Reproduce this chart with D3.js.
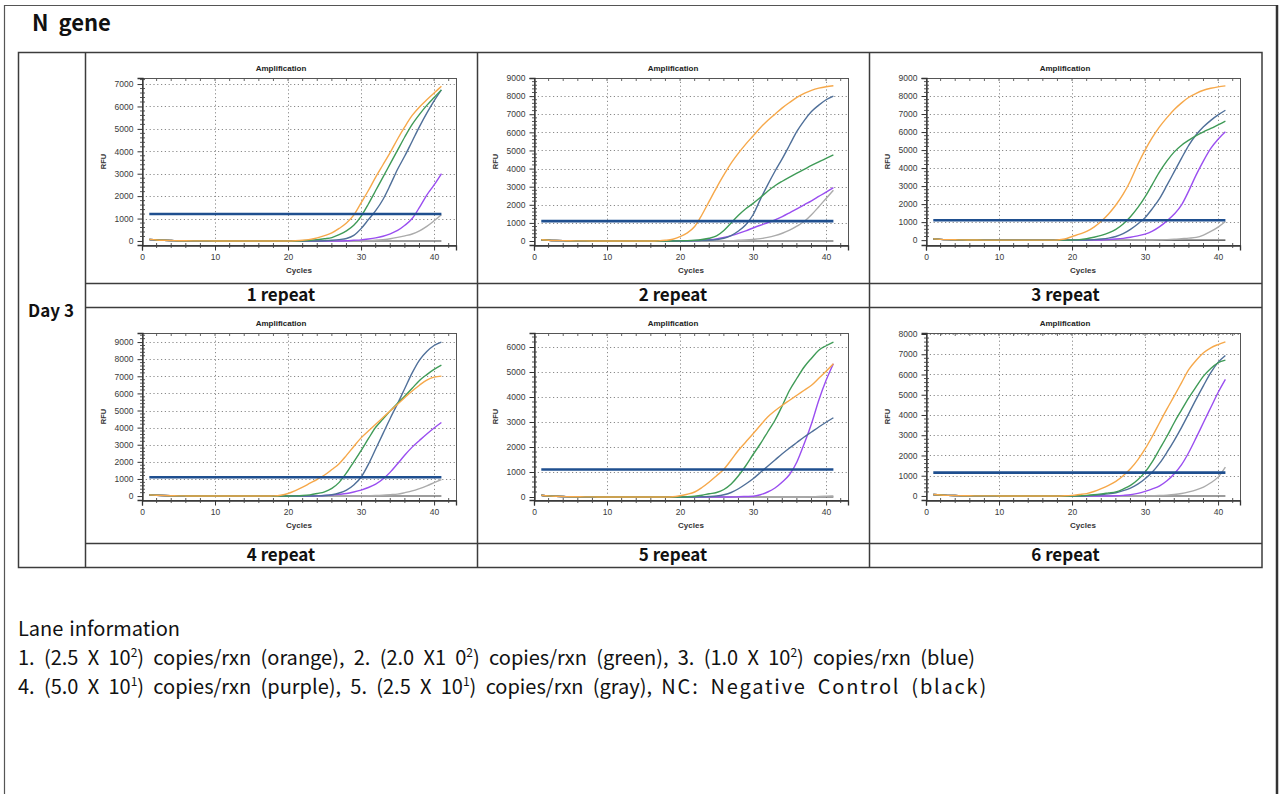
<!DOCTYPE html>
<html><head><meta charset="utf-8">
<script src="https://cdn.jsdelivr.net/npm/d3@7/dist/d3.min.js"></script>
<style>body{margin:0;background:#fff}svg{display:block}</style>
</head><body><svg id="c" width="1283" height="794"></svg>
<script>
// ---------------- DATA ----------------
const cycles = [1,2,3,4,5,6,7,8,9,10,11,12,13,14,15,16,17,18,19,20,21,22,23,24,25,26,27,28,29,30,31,32,33,34,35,36,37,38,39,40,41];
const repeatLabels = ["1 repeat","2 repeat","3 repeat","4 repeat","5 repeat","6 repeat"];
const yTickMax = [7000, 9000, 9000, 9000, 6000, 8000];
const yDomainTop = [7270, 9000, 9000, 9530, 6560, 8050];
const yDomainBottom = [-180, -220, -270, -230, -120, -200];
const xTicks = [0, 10, 20, 30, 40];
const thresholds = [1200, 1100, 1100, 1100, 1100, 1150];
const seriesNames = ["gray", "purple", "blue", "green", "orange"];

const ncValues = [50,35,22,14,9,5,3,2,1,0,0,0,0,0,0,0,0,0,0,0,0,0,0,0,0,0,0,0,0,0,0,0,0,0,0,0,0,0,0,0,0];

const p1Orange = [70,45,30,20,12,8,5,3,2,1,0,0,0,0,0,0,0,0,0,0,10,30,70,140,240,360,560,800,1150,1700,2250,2850,3400,3950,4550,5100,5600,5980,6300,6600,6900];
const p1Green  = [70,45,30,20,12,8,5,3,2,1,0,0,0,0,0,0,0,0,0,0,0,10,30,60,100,150,280,450,700,1100,1650,2250,2850,3450,4050,4650,5200,5650,6050,6400,6740];
const p1Blue   = [70,45,30,20,12,8,5,3,2,1,0,0,0,0,0,0,0,0,0,0,0,0,0,0,10,30,60,110,250,550,950,1350,1850,2500,3200,3800,4450,5100,5700,6250,6740];
const p1Purple = [70,45,30,20,12,8,5,3,2,1,0,0,0,0,0,0,0,0,0,0,0,0,0,0,0,0,0,10,30,50,90,140,210,320,470,700,1000,1500,2050,2500,3000];
const p1Gray   = [70,45,30,20,12,8,5,3,2,1,0,0,0,0,0,0,0,0,0,0,0,0,0,0,0,0,0,0,0,0,10,30,60,100,160,230,310,450,650,900,1170];

const p2Orange = [70,45,30,20,12,8,5,3,2,1,0,0,0,0,0,0,10,40,100,240,450,800,1450,2200,2950,3650,4300,4850,5350,5800,6250,6650,7000,7350,7650,7930,8150,8320,8440,8520,8570];
const p2Green  = [70,45,30,20,12,8,5,3,2,1,0,0,0,0,0,0,0,0,0,10,20,40,80,150,280,580,1000,1420,1780,2080,2400,2750,3050,3300,3530,3750,3960,4170,4370,4560,4750];
const p2Blue   = [70,45,30,20,12,8,5,3,2,1,0,0,0,0,0,0,0,0,0,0,0,10,20,40,80,150,300,550,900,1450,2300,3100,3850,4550,5300,6050,6650,7150,7500,7800,8000];
const p2Purple = [70,45,30,20,12,8,5,3,2,1,0,0,0,0,0,0,0,0,0,0,10,20,40,70,120,200,300,420,560,720,870,1010,1170,1350,1560,1780,2000,2220,2460,2700,2950];
const p2Gray   = [70,45,30,20,12,8,5,3,2,1,0,0,0,0,0,0,0,0,0,0,0,0,0,0,0,10,20,40,60,90,130,200,300,430,600,820,1080,1450,1890,2350,2800];

const p3Orange = [70,45,30,20,12,8,5,3,2,1,0,0,0,0,0,0,0,10,60,200,330,480,720,1050,1450,1950,2550,3300,4200,5000,5700,6300,6800,7250,7620,7930,8150,8320,8430,8510,8560];
const p3Green  = [70,45,30,20,12,8,5,3,2,1,0,0,0,0,0,0,0,0,0,10,30,80,160,260,400,600,900,1300,1800,2400,3100,3800,4400,4900,5270,5550,5800,6010,6200,6400,6600];
const p3Blue   = [70,45,30,20,12,8,5,3,2,1,0,0,0,0,0,0,0,0,0,0,0,10,30,60,110,200,360,600,900,1250,1750,2320,3050,3800,4550,5280,5850,6290,6650,6950,7210];
const p3Purple = [70,45,30,20,12,8,5,3,2,1,0,0,0,0,0,0,0,0,0,0,0,0,0,10,30,60,100,160,240,330,500,750,1070,1450,1960,2750,3620,4400,5090,5600,6010];
const p3Gray   = [70,45,30,20,12,8,5,3,2,1,0,0,0,0,0,0,0,0,0,0,0,0,0,0,0,0,0,0,0,0,10,20,30,50,80,110,150,280,480,720,1030];

const p4Orange = [70,45,30,20,12,8,5,3,2,1,0,0,0,0,0,0,0,10,50,150,320,520,750,980,1230,1550,1890,2380,2900,3400,3800,4200,4590,4980,5370,5760,6140,6480,6780,6950,7010];
const p4Green  = [70,45,30,20,12,8,5,3,2,1,0,0,0,0,0,0,0,0,0,0,10,30,70,150,250,450,800,1350,2000,2660,3350,4020,4500,4980,5420,5850,6300,6760,7100,7400,7650];
const p4Blue   = [70,45,30,20,12,8,5,3,2,1,0,0,0,0,0,0,0,0,0,0,0,0,0,10,30,80,180,350,650,1100,1850,2750,3650,4550,5400,6300,7200,7950,8450,8800,9000];
const p4Purple = [70,45,30,20,12,8,5,3,2,1,0,0,0,0,0,0,0,0,0,0,0,0,0,10,30,60,100,150,240,350,500,700,1000,1400,1890,2400,2860,3250,3630,3980,4300];
const p4Gray   = [70,45,30,20,12,8,5,3,2,1,0,0,0,0,0,0,0,0,0,0,0,0,0,0,0,0,0,0,0,10,20,30,50,80,115,200,300,440,600,780,960];

const p5Orange = [70,45,30,20,12,8,5,3,2,1,0,0,0,0,0,0,0,0,10,50,110,200,380,600,850,1110,1480,1870,2200,2530,2870,3200,3450,3670,3870,4070,4270,4470,4750,5030,5330];
const p5Green  = [70,45,30,20,12,8,5,3,2,1,0,0,0,0,0,0,0,0,0,0,10,30,70,130,180,300,520,850,1250,1700,2130,2600,3070,3650,4270,4750,5200,5550,5870,6050,6200];
const p5Blue   = [70,45,30,20,12,8,5,3,2,1,0,0,0,0,0,0,0,0,0,0,0,0,10,20,40,90,180,330,520,730,980,1230,1480,1730,1960,2180,2400,2600,2800,2990,3170];
const p5Purple = [70,45,30,20,12,8,5,3,2,1,0,0,0,0,0,0,0,0,0,0,0,0,0,0,0,0,0,10,20,30,90,200,360,600,900,1400,2130,2930,3870,4670,5330];
const p5Gray   = [70,45,30,20,12,8,5,3,2,1,0,0,0,0,0,0,0,0,0,0,0,0,0,0,0,0,0,0,0,0,0,0,0,0,0,0,0,10,20,30,40];

const p6Orange = [70,45,30,20,12,8,5,3,2,1,0,0,0,0,0,0,0,0,10,30,70,115,220,360,520,720,1000,1340,1780,2320,2950,3630,4300,4940,5600,6250,6700,7070,7320,7480,7610];
const p6Green  = [70,45,30,20,12,8,5,3,2,1,0,0,0,0,0,0,0,0,0,0,10,30,60,100,150,200,340,520,800,1180,1700,2320,2950,3630,4250,4860,5400,5920,6300,6580,6710];
const p6Blue   = [70,45,30,20,12,8,5,3,2,1,0,0,0,0,0,0,0,0,0,0,0,10,30,60,100,160,260,390,580,850,1180,1620,2160,2750,3390,4080,4780,5450,6090,6600,6940];
const p6Purple = [70,45,30,20,12,8,5,3,2,1,0,0,0,0,0,0,0,0,0,0,0,0,0,0,0,10,30,60,130,230,350,500,750,1100,1550,2160,2880,3630,4370,5110,5760];
const p6Gray   = [70,45,30,20,12,8,5,3,2,1,0,0,0,0,0,0,0,0,0,0,0,0,0,0,0,0,0,0,0,0,10,20,40,70,120,200,300,440,650,930,1420];

const panelSeries = [
  [p1Gray, p1Purple, p1Blue, p1Green, p1Orange],
  [p2Gray, p2Purple, p2Blue, p2Green, p2Orange],
  [p3Gray, p3Purple, p3Blue, p3Green, p3Orange],
  [p4Gray, p4Purple, p4Blue, p4Green, p4Orange],
  [p5Gray, p5Purple, p5Blue, p5Green, p5Orange],
  [p6Gray, p6Purple, p6Blue, p6Green, p6Orange]
];

const laneTitle = "Lane information";
const laneLine1 = [["1. (2.5 X 10",""],["2","sup"],[") copies/rxn (orange), 2. (2.0 X1 0",""],["2","sup"],[") copies/rxn (green), 3. (1.0 X 10",""],["2","sup"],[") copies/rxn (blue)",""]];
const laneLine2 = [["4. (5.0 X 10",""],["1","sup"],[") copies/rxn (purple), 5. (2.5 X 10",""],["1","sup"],[") copies/rxn (gray), ",""],["NC: Negative Control (black)","wide"]];

// ---------------- STYLE / LAYOUT ----------------
const colors = {gray:"#ababab", purple:"#9a4ef0", blue:"#4f6f99", green:"#3f9b57", orange:"#f6a84a", nc:"#3a3a3a"};
const threshColor = "#1f4f8f";
const korFont = "'Noto Sans CJK KR','Noto Sans',sans-serif";
const chartFont = "'Liberation Sans',Arial,sans-serif";
const lineCol = "#3c3c3c";

const svg = d3.select("#c");

svg.append("path").attr("d","M4.5,800V5.5H1277").attr("fill","none").attr("stroke","#555").attr("stroke-width",1.2);
svg.append("line").attr("x1",1277).attr("x2",1277).attr("y1",5).attr("y2",800).attr("stroke","#333").attr("stroke-width",2.5);

svg.append("text").attr("x",32).attr("y",31).style("white-space","pre")
  .attr("font-family",korFont).attr("font-weight","bold").attr("font-size",22).attr("fill","#111").text("N  gene");

const colX = [85, 477, 869, 1262];
const tbl = svg.append("g").attr("stroke",lineCol).attr("stroke-width",1.5).attr("fill","none");
tbl.append("rect").attr("x",18.5).attr("y",52.5).attr("width",1262-18.5).attr("height",567.5-52.5);
colX.slice(0,3).forEach(x=>tbl.append("line").attr("x1",x+0.5).attr("x2",x+0.5).attr("y1",52).attr("y2",567.5));
[283,307,543].forEach(y=>tbl.append("line").attr("x1",85).attr("x2",1262).attr("y1",y+0.5).attr("y2",y+0.5));

svg.append("text").attr("x",51).attr("y",317).attr("text-anchor","middle")
  .attr("font-family",korFont).attr("font-weight","bold").attr("font-size",17).attr("fill","#111").text("Day 3");

const line = d3.line().curve(d3.curveMonotoneX);
for (let p=0; p<6; p++) {
  const col = p%3, row = Math.floor(p/3);
  const x0 = colX[col], cellTop = row===0 ? 52 : 307;
  const fl = x0+57, fw = 314, ft = cellTop+26, fh = 167;
  const x = d3.scaleLinear().domain([0,43]).range([fl, fl+fw]);
  const y = d3.scaleLinear().domain([yDomainBottom[p], yDomainTop[p]]).range([ft+fh, ft]);
  const g = svg.append("g");
  const yt = d3.range(0, yTickMax[p]+1, 1000);

  g.append("g").selectAll("line").data(yt.filter(v=>v>0)).join("line")
    .attr("x1",fl).attr("x2",fl+fw).attr("y1",d=>Math.round(y(d))+0.5).attr("y2",d=>Math.round(y(d))+0.5)
    .attr("stroke","#8a8a8a").attr("stroke-width",1).attr("stroke-dasharray","1.2,2.6");
  g.append("g").selectAll("line").data(xTicks.filter(v=>v>0)).join("line")
    .attr("y1",ft).attr("y2",ft+fh).attr("x1",d=>Math.round(x(d))+0.5).attr("x2",d=>Math.round(x(d))+0.5)
    .attr("stroke","#8a8a8a").attr("stroke-width",1).attr("stroke-dasharray","1.2,2.6");

  g.append("rect").attr("x",fl+0.5).attr("y",ft+0.5).attr("width",fw).attr("height",fh)
    .attr("fill","none").attr("stroke","#555").attr("stroke-width",1);

  const yAx = d3.axisLeft(y).tickValues(yt).tickSize(5).tickPadding(4).tickFormat(d3.format("d"));
  const ya = g.append("g").attr("transform",`translate(${fl+0.5},0)`).call(yAx);
  const xAx = d3.axisBottom(x).tickValues(xTicks).tickSize(5).tickPadding(3);
  const xa = g.append("g").attr("transform",`translate(0,${ft+fh+0.5})`).call(xAx);
  [ya,xa].forEach(a=>{
    a.select(".domain").attr("stroke","#333").attr("stroke-width",1.3);
    a.selectAll(".tick line").attr("stroke","#333");
    a.selectAll("text").attr("font-family",chartFont).attr("font-size",8.5).attr("fill","#3a3a3a");
  });
  const yMinor = d3.range(0, yDomainTop[p], 200).filter(v=>v%1000!==0);
  g.append("g").selectAll("line").data(yMinor).join("line")
    .attr("x1",fl-2).attr("x2",fl+3).attr("y1",d=>y(d)).attr("y2",d=>y(d)).attr("stroke","#444").attr("stroke-width",0.9);
  const xMinor = d3.range(2, 43, 2).filter(v=>v%10!==0);
  g.append("g").selectAll("line").data(xMinor).join("line")
    .attr("y1",ft+fh-2).attr("y2",ft+fh+3).attr("x1",d=>x(d)).attr("x2",d=>x(d)).attr("stroke","#444").attr("stroke-width",0.9);
  g.append("g").selectAll("line").data(d3.range(2,43,2)).join("line")
    .attr("y1",ft).attr("y2",ft+3).attr("x1",d=>x(d)).attr("x2",d=>x(d)).attr("stroke","#555").attr("stroke-width",0.9);

  g.append("text").attr("x",x0+196).attr("y",ft-7).attr("text-anchor","middle")
    .attr("font-family",chartFont).attr("font-weight","bold").attr("font-size",8).attr("fill","#222").text("Amplification");
  g.append("text").attr("x",fl+fw/2).attr("y",ft+fh+28).attr("text-anchor","middle")
    .attr("font-family",chartFont).attr("font-weight","bold").attr("font-size",8).attr("fill","#333").text("Cycles");
  g.append("text").attr("transform",`translate(${fl-36},${ft+fh/2}) rotate(-90)`).attr("text-anchor","middle")
    .attr("font-family",chartFont).attr("font-weight","bold").attr("font-size",7.5).attr("fill","#333").text("RFU");

  const curves = g.append("g").attr("fill","none").attr("stroke-width",1.4);
  curves.append("path").attr("d", line(cycles.map((c,i)=>[x(c), y(ncValues[i])]))).attr("stroke",colors.nc).attr("stroke-width",1.1);
  panelSeries[p].forEach((vals,si)=>{
    curves.append("path").attr("d", line(cycles.map((c,i)=>[x(c), y(vals[i])])))
      .attr("stroke", colors[seriesNames[si]]);
  });
  g.append("line").attr("x1",x(cycles[0])).attr("x2",x(cycles[cycles.length-1]))
    .attr("y1",y(thresholds[p])).attr("y2",y(thresholds[p]))
    .attr("stroke",threshColor).attr("stroke-width",2.6);

  const labY = row===0 ? 301 : 561;
  svg.append("text").attr("x",(colX[col]+colX[col+1])/2).attr("y",labY).attr("text-anchor","middle")
    .attr("font-family",korFont).attr("font-weight","bold").attr("font-size",17).attr("fill","#111").text(repeatLabels[p]);
}

// lane information text
function rich(yb, parts) {
  const t = svg.append("text").attr("x",18).attr("y",yb).attr("font-family",korFont)
    .attr("font-size",20).attr("fill","#111").style("white-space","pre");
  let raised = false, full = "", wide = null;
  parts.forEach(([txt, kind])=>{
    const s = t.append("tspan").text(txt);
    if (kind === "sup") { s.attr("font-size",12).attr("dy",-8); raised = true; }
    else { if (raised) { s.attr("dy",8); raised = false; } }
    if (kind === "wide") wide = s; else full += txt;
  });
  return {t, full, wide};
}
const countSpaces = s => (s.match(/ /g)||[]).length;

const r0 = rich(636, [[laneTitle,""]]);
r0.t.attr("word-spacing", ((162 - r0.t.node().getComputedTextLength())/countSpaces(r0.full)).toFixed(2));

const r1 = rich(665, laneLine1);
const ws = (957 - r1.t.node().getComputedTextLength())/countSpaces(r1.full);
r1.t.attr("word-spacing", ws.toFixed(2));

const r2 = rich(694, laneLine2);
r2.t.attr("word-spacing", ws.toFixed(2));
const w2 = r2.t.node().getComputedTextLength();
const wideTxt = laneLine2[laneLine2.length-1][0];
r2.wide.attr("letter-spacing", ((970 - w2)/wideTxt.length).toFixed(2));
</script></body></html>
